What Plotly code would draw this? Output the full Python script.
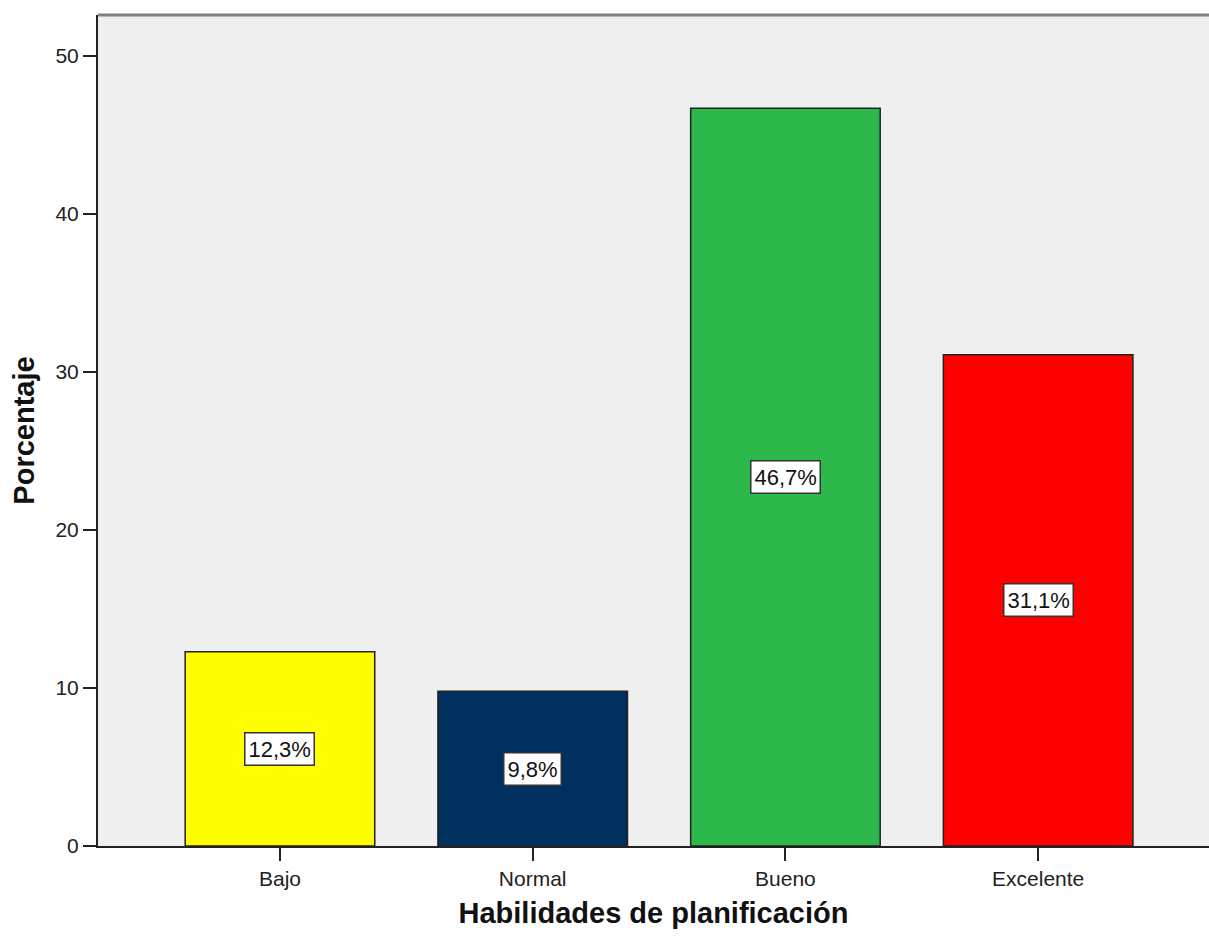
import plotly.graph_objects as go

categorias = ['Bajo', 'Normal', 'Bueno', 'Excelente']
porcentajes = [12.3, 9.8, 46.7, 31.1]
etiquetas = ['12,3%', '9,8%', '46,7%', '31,1%']
colores = ['#FFFF00', '#003060', '#2DB84B', '#FF0000']
y_ticks = [0, 10, 20, 30, 40, 50]

fig = go.Figure()
fig.add_trace(go.Bar(
    x=categorias, y=porcentajes,
    marker=dict(color=colores, line=dict(color='#222222', width=1.5)),
    width=0.75, showlegend=False, hoverinfo='skip'
))

# etiquetas en caja blanca, centradas en cada barra
for cat, val, lab in zip(categorias, porcentajes, etiquetas):
    fig.add_annotation(
        x=cat, y=val / 2, text=lab, showarrow=False,
        font=dict(family='Liberation Sans, Arial', size=22, color='#111111'),
        bgcolor='white', bordercolor='#333333', borderwidth=1.5, borderpad=3
    )

# borde superior gris del area del grafico
fig.add_shape(type='line', xref='paper', yref='paper', x0=0, x1=1, y0=1, y1=1,
              line=dict(color='#808080', width=3))

fig.update_layout(
    width=1209, height=936,
    margin=dict(l=98, r=0, t=15, b=90),
    paper_bgcolor='white', plot_bgcolor='#EFEFEF',
    font=dict(family='Liberation Sans, Arial', size=21, color='#222222'),
    xaxis=dict(
        range=[-0.72, 3.676], showline=True, linecolor='#222222', linewidth=2,
        ticks='outside', ticklen=13, tickcolor='#222222', tickwidth=2,
        showgrid=False, tickfont=dict(size=21),
        title=dict(text='<b>Habilidades de planificación</b>', standoff=13,
                   font=dict(size=29, color='#111111'))
    ),
    yaxis=dict(
        range=[0, 52.6], tickvals=y_ticks, showline=True, linecolor='#222222',
        linewidth=2, ticks='outside', ticklen=13, tickcolor='#222222',
        tickwidth=2, showgrid=False, zeroline=False, tickfont=dict(size=21),
        title=dict(text='<b>Porcentaje</b>', standoff=12,
                   font=dict(size=29, color='#111111'))
    ),
)

fig.write_html('out.html', config={'displayModeBar': False},
               post_script="document.body.style.margin='0px';")
